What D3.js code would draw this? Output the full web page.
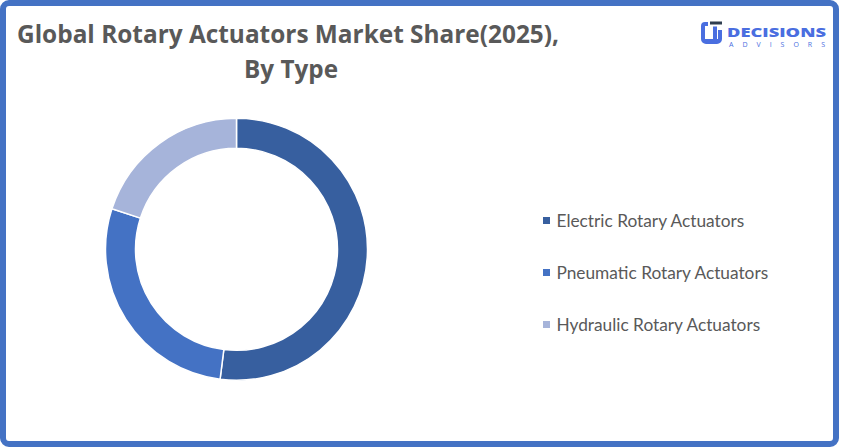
<!DOCTYPE html>
<html><head><meta charset="utf-8">
<script src="https://cdn.jsdelivr.net/npm/d3@7/dist/d3.min.js"></script>
<style>
html,body{margin:0;padding:0;background:#fff;}
svg{display:block;}
</style></head>
<body>
<svg id="chart" width="841" height="448"></svg>
<script>
const categories = ["Electric Rotary Actuators", "Pneumatic Rotary Actuators", "Hydraulic Rotary Actuators"];
const shares = [52, 28, 20];
const colors = ["#375f9f", "#4472c4", "#a6b4da"];
const titleLines = ["Global Rotary Actuators Market Share(2025),", "By Type"];

const svg = d3.select("#chart");

// frame
svg.append("rect").attr("x", 3).attr("y", 3).attr("width", 833).attr("height", 441)
  .attr("rx", 6).attr("fill", "#fff").attr("stroke", "#4472c4").attr("stroke-width", 6);

// title
const title = svg.append("text").attr("text-anchor", "middle")
  .attr("font-family", "'Open Sans', sans-serif").attr("font-weight", 700)
  .attr("font-size", 25).attr("fill", "#595959");
title.selectAll("tspan").data(titleLines).join("tspan")
  .attr("x", (d, i) => i === 0 ? 288 : 291)
  .attr("y", (d, i) => i === 0 ? 43 : 78)
  .attr("textLength", (d, i) => i === 0 ? 542 : 94)
  .attr("lengthAdjust", "spacingAndGlyphs")
  .text(d => d);

// donut
const cx = 236.5, cy = 249.3, rOuter = 131, rInner = 101;
const pie = d3.pie().sort(null).value(d => d)(shares);
const arc = d3.arc().innerRadius(rInner).outerRadius(rOuter);
const g = svg.append("g").attr("transform", `translate(${cx},${cy})`);
g.selectAll("path").data(pie).join("path")
  .attr("d", arc).attr("fill", (d, i) => colors[i])
  .attr("stroke", "#fff").attr("stroke-width", 1.5);

// legend
const leg = svg.append("g");
const rows = leg.selectAll("g").data(categories).join("g")
  .attr("transform", (d, i) => `translate(543,${217 + i * 52})`);
rows.append("rect").attr("width", 7).attr("height", 7).attr("fill", (d, i) => colors[i]);
rows.append("text").attr("x", 13.5).attr("y", 10)
  .attr("font-family", "Lato, 'Open Sans', sans-serif").attr("font-size", 17.3)
  .attr("fill", "#595959").text(d => d);

// logo
const logo = svg.append("g");
const blue = "#4a6ee0";
logo.append("path").attr("d", "M708,22 h-3 a4,4 0 0 0 -4,4 v13 a5,5 0 0 0 5,5 h11 a5,5 0 0 0 5,-5 v-9 h-4 v9 h-13 v-13 h3 z")
  .attr("fill", blue);
logo.append("rect").attr("x", 710).attr("y", 21.5).attr("width", 12).attr("height", 3).attr("fill", "#2f3d4f");
logo.append("rect").attr("x", 713).attr("y", 26.5).attr("width", 4).attr("height", 14).attr("fill", blue);
logo.append("text").attr("x", 727).attr("y", 36.5)
  .attr("font-family", "'Open Sans', sans-serif").attr("font-weight", 800).attr("font-size", 13)
  .attr("fill", blue).attr("textLength", 99).attr("lengthAdjust", "spacingAndGlyphs").text("DECISIONS");
logo.append("text").attr("x", 729).attr("y", 46.5)
  .attr("font-family", "'Open Sans', sans-serif").attr("font-size", 7)
  .attr("fill", blue).attr("textLength", 96).attr("lengthAdjust", "spacing").text("ADVISORS");
</script>
</body></html>
